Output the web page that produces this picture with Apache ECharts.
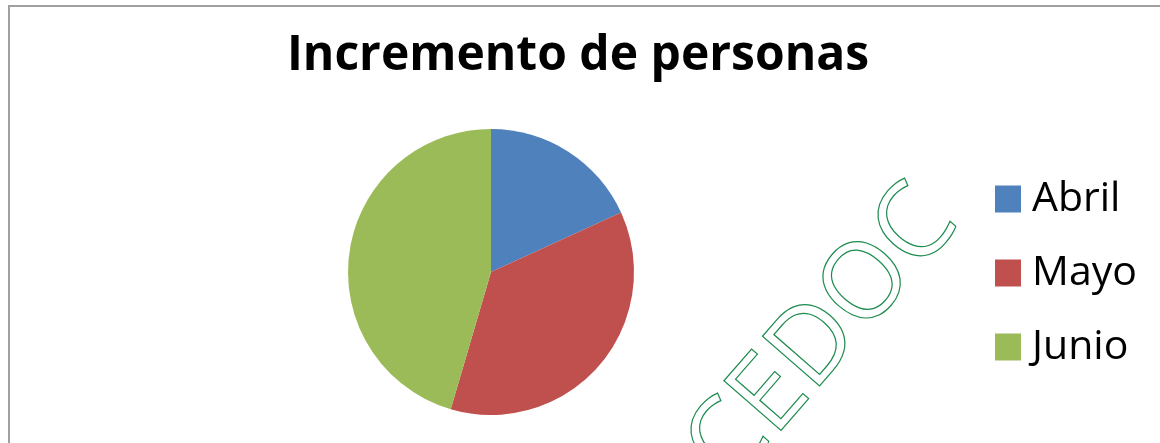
<!DOCTYPE html>
<html>
<head>
<meta charset="utf-8">
<script src="https://cdn.jsdelivr.net/npm/echarts@6/dist/echarts.min.js"></script>
<style>
  html, body { margin: 0; padding: 0; background: #fff; }
  #viewA { width: 1160px; height: 443px; }
</style>
</head>
<body>
<div id="viewA"></div>
<script>
// data
const months = ["Abril", "Mayo", "Junio"];
const increments = [20, 40, 50];
const colors = ["#4F81BD", "#C0504D", "#9BBB59"];

const titleText = "Incremento de personas";
const watermark = "CEDOC";

function render(elemID, option) {
  let chart = echarts.init(document.getElementById(elemID));
  chart.setOption(option);
}

let option = {
  animation: false,
  backgroundColor: "#fff",
  title: {
    text: titleText,
    left: 578,
    textAlign: "center",
    top: 32,
    padding: 0,
    textStyle: {
      fontFamily: "Open Sans",
      fontWeight: "bold",
      fontSize: 48,
      color: "#000"
    }
  },
  legend: {
    orient: "vertical",
    left: 995,
    top: 177,
    padding: 0,
    itemWidth: 26,
    itemHeight: 27,
    itemGap: 30,
    icon: "rect",
    data: months,
    textStyle: {
      fontFamily: "Open Sans",
      fontSize: 41,
      lineHeight: 44,
      color: "#000",
      padding: [0, 0, 0, 6]
    }
  },
  graphic: [
    {
      type: "rect",
      shape: { x: 9, y: 6, width: 1160, height: 450 },
      style: { fill: "none", stroke: "#a0a0a0", lineWidth: 2 },
      silent: true
    },
    {
      // outlined watermark across the chart
      type: "text",
      x: 823,
      y: 336,
      rotation: 49 * Math.PI / 180,
      style: {
        text: watermark,
        fontFamily: "Open Sans",
        fontSize: 106,
        fill: "none",
        stroke: "#1e8c4e",
        lineWidth: 1.2,
        align: "center",
        verticalAlign: "middle"
      },
      silent: true,
      z: 10
    }
  ],
  series: [
    {
      type: "pie",
      center: [491, 272],
      radius: 143,
      startAngle: 90,
      clockwise: true,
      label: { show: false },
      labelLine: { show: false },
      emphasis: { disabled: true },
      itemStyle: { borderWidth: 0 },
      data: months.map((m, i) => ({
        name: m,
        value: increments[i],
        itemStyle: { color: colors[i] }
      }))
    }
  ]
};

render("viewA", option);
</script>
</body>
</html>
